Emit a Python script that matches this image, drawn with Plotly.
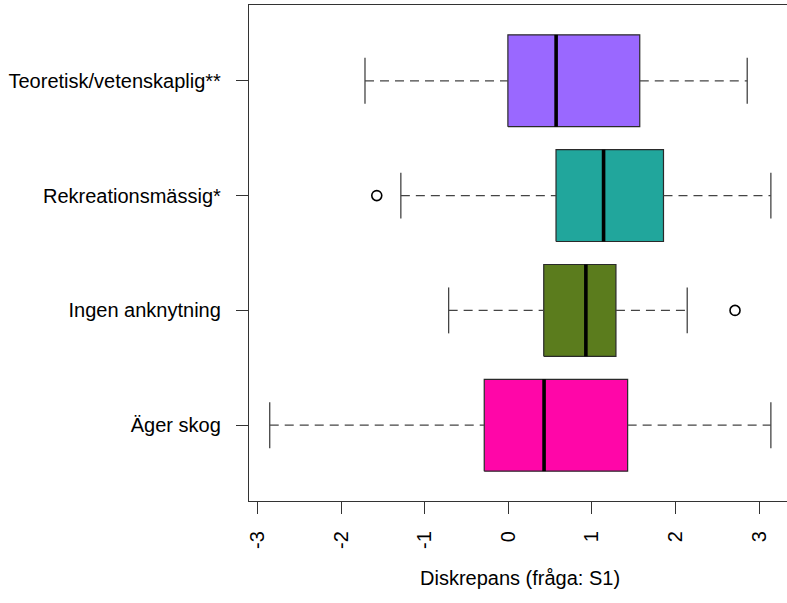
import plotly.graph_objects as go

categories = ["Äger skog", "Ingen anknytning", "Rekreationsmässig*", "Teoretisk/vetenskaplig**"]
lower_whisker = [-2.855, -0.714, -1.286, -1.715]
q1 = [-0.288, 0.424, 0.571, -0.005]
median = [0.428, 0.928, 1.140, 0.572]
q3 = [1.428, 1.288, 1.857, 1.573]
upper_whisker = [3.142, 2.141, 3.142, 2.859]
outliers = [[], [2.713], [-1.574], []]
colors = ["#FF06A8", "#5B7C1D", "#21A69C", "#9A68FF"]
x_ticks = [-3, -2, -1, 0, 1, 2, 3]
x_title = "Diskrepans (fråga: S1)"

box_half = 0.4
cap_half = 0.2
FONT = "Liberation Sans, Arial, Helvetica, sans-serif"

fig = go.Figure()
for i, cat in enumerate(categories):
    pos = i + 1
    # box
    fig.add_trace(go.Scatter(
        x=[q1[i], q3[i], q3[i], q1[i], q1[i]],
        y=[pos - box_half, pos - box_half, pos + box_half, pos + box_half, pos - box_half],
        mode="lines", fill="toself", fillcolor=colors[i],
        line=dict(color="#2a2a2a", width=1.2), hoverinfo="skip", showlegend=False))
    # median
    fig.add_trace(go.Scatter(
        x=[median[i], median[i]], y=[pos - box_half, pos + box_half],
        mode="lines", line=dict(color="black", width=3.6), showlegend=False, hoverinfo="skip"))
    # whiskers (dashed)
    fig.add_trace(go.Scatter(
        x=[lower_whisker[i], q1[i], None, q3[i], upper_whisker[i]],
        y=[pos, pos, None, pos, pos],
        mode="lines", line=dict(color="#444444", width=1.3, dash="9px,6px"),
        showlegend=False, hoverinfo="skip"))
    # caps
    fig.add_trace(go.Scatter(
        x=[lower_whisker[i], lower_whisker[i], None, upper_whisker[i], upper_whisker[i]],
        y=[pos - cap_half, pos + cap_half, None, pos - cap_half, pos + cap_half],
        mode="lines", line=dict(color="#444444", width=1.3),
        showlegend=False, hoverinfo="skip"))
    if outliers[i]:
        fig.add_trace(go.Scatter(
            x=outliers[i], y=[pos] * len(outliers[i]), mode="markers",
            marker=dict(symbol="circle-open", size=10, color="black", line=dict(width=1.6)),
            showlegend=False, hoverinfo="skip"))

fig.update_layout(
    width=787, height=603,
    margin=dict(l=249, r=0, t=5, b=102),
    paper_bgcolor="white", plot_bgcolor="white",
    font=dict(family=FONT, size=20, color="black"),
    xaxis=dict(range=[-3.103, 3.335], tickvals=x_ticks, ticktext=[str(v) for v in x_ticks],
               tickangle=-90, ticks="outside", ticklen=12, tickcolor="#333333", tickwidth=1.3,
               showline=True, linecolor="#333333", linewidth=1.3, mirror=True,
               showgrid=False, zeroline=False, ticklabelstandoff=9,
               tickfont=dict(family=FONT, size=20, color="black")),
    yaxis=dict(range=[0.34, 4.66], tickvals=[1, 2, 3, 4], ticktext=categories,
               ticks="outside", ticklen=12, tickcolor="#333333", tickwidth=1.3,
               showline=True, linecolor="#333333", linewidth=1.3, mirror=False,
               showgrid=False, zeroline=False, ticklabelstandoff=11,
               tickfont=dict(family=FONT, size=20, color="black")),
    annotations=[dict(text=x_title, xref="paper", yref="paper", x=0.503, y=-(578 - 501) / 496,
                      xanchor="center", yanchor="middle", showarrow=False,
                      font=dict(family=FONT, size=20, color="black"))],
)

fig.write_html("out.html")
